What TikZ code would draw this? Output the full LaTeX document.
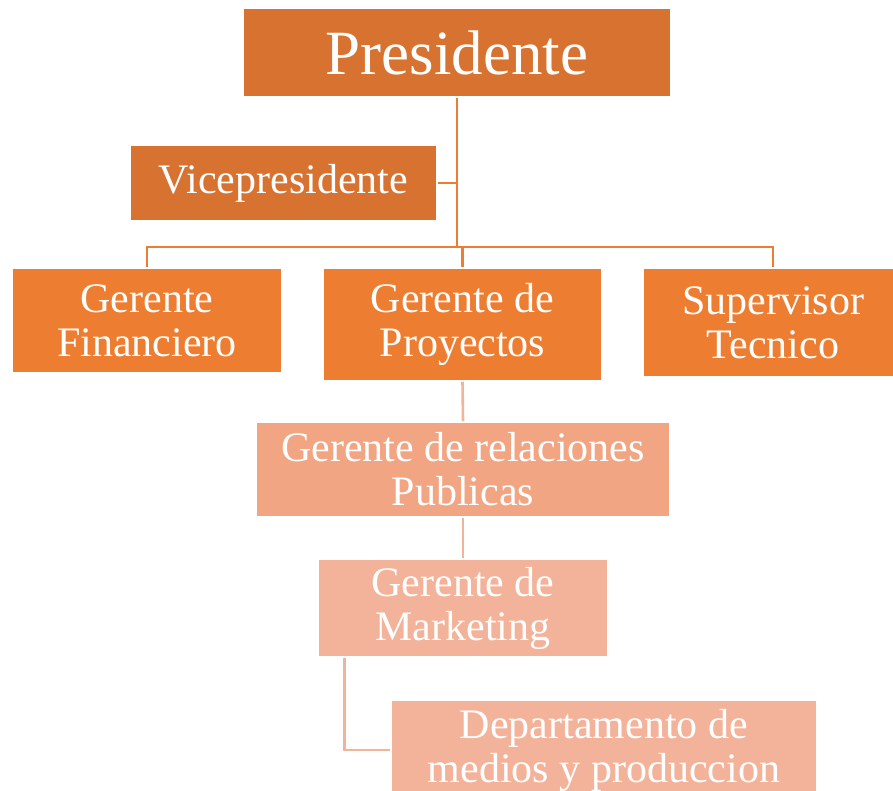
\documentclass[tikz,border=0pt]{standalone}
\usepackage{fontspec}
\setmainfont{Liberation Serif}
\definecolor{cDark}{HTML}{D87230}
\definecolor{cMid}{HTML}{ED7D31}
\definecolor{cRel}{HTML}{F1A582}
\definecolor{cLight}{HTML}{F3B39A}
\tikzset{
  box/.style={rectangle, draw=white, line width=1.5pt, text=white, align=center, inner sep=0pt,
    font=\fontsize{42}{44}\selectfont},
  conn/.style={draw=cMid, line width=2.6pt},
  connlight/.style={draw=cLight, line width=2.6pt},
}
\begin{document}
\begin{tikzpicture}[x=1pt,y=-1pt]
\useasboundingbox (0,0) rectangle (893,791);
\clip (0,0) rectangle (893,791);
\fill[white] (0,0) rectangle (893,791);
\coordinate (bus) at (457,247);
% connectors first
\node[box, fill=cDark, minimum width=428pt, minimum height=89pt, font=\fontsize{63}{66}\selectfont] (pres) at (457,52.5) {Presidente};
\node[box, fill=cDark, minimum width=307pt, minimum height=76pt] (vice) at (283.5,183) {Vicepresidente};
\node[box, fill=cMid, minimum width=270pt, minimum height=105pt] (fin) at (147,320.5) {Gerente\\Financiero};
\node[box, fill=cMid, minimum width=279pt, minimum height=113pt] (proy) at (462.5,324.5) {Gerente de\\Proyectos};
\node[box, fill=cMid, minimum width=260pt, minimum height=109pt] (sup) at (773,322.5) {Supervisor\\Tecnico};
\node[box, fill=cRel, minimum width=414pt, minimum height=95pt] (rel) at (463,469.5) {Gerente de relaciones\\Publicas};
\node[box, fill=cLight, minimum width=290pt, minimum height=98pt] (mkt) at (463,608) {Gerente de\\Marketing};
\node[box, fill=cLight, minimum width=426pt, minimum height=100pt] (dept) at (604,750) {Departamento de\\medios y produccion};
\begin{scope}[on background layer/.try]
\end{scope}
\draw[conn] (pres.south) -- (bus);
\draw[conn] (vice.east) -- (vice.east -| bus);
\draw[conn] (fin.north) -- (fin.north |- bus) -- (sup.north |- bus) -- (sup.north);
\draw[conn] (proy.north) -- (proy.north |- bus);
\draw[connlight] (proy.south) -- (rel.north);
\draw[connlight] (rel.south) -- (mkt.north);
\draw[connlight] (mkt.south west) ++(27,0) |- (dept.west);
\end{tikzpicture}
\end{document}
